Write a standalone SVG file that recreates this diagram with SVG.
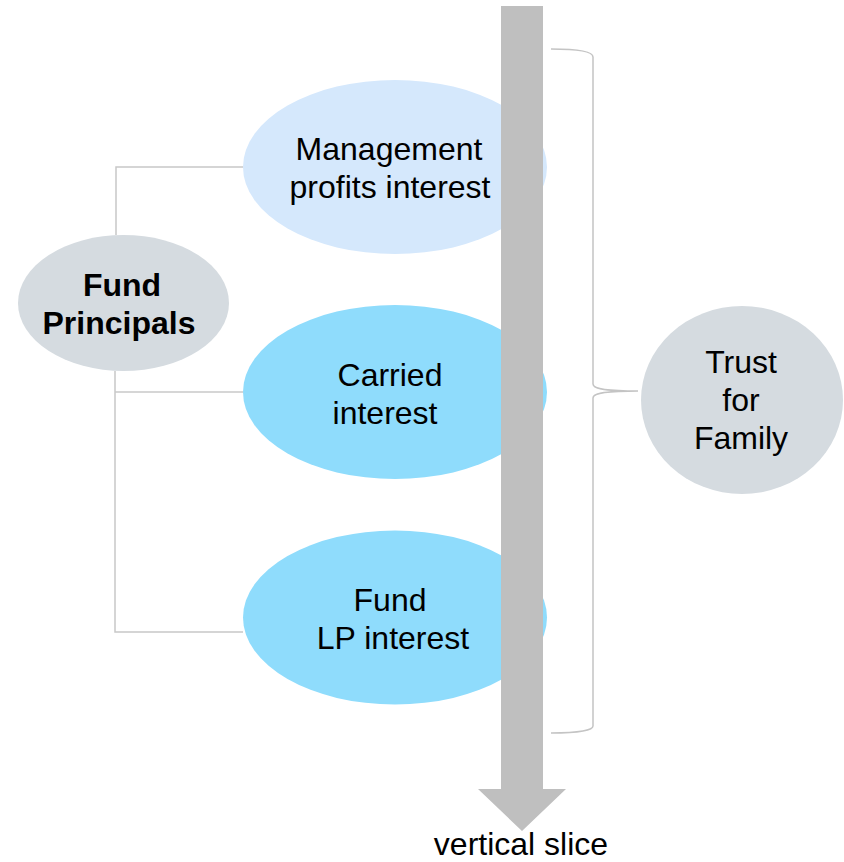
<svg xmlns="http://www.w3.org/2000/svg" width="844" height="862" viewBox="0 0 844 862">
  <style>
    .lbl { font-family: "Liberation Sans", Arial, sans-serif; font-size: 32px; fill: #000; text-anchor: middle; }
    .bold { font-weight: bold; }
    .link { fill: none; stroke: #c8c8c8; stroke-width: 1.5; }
    .brace { fill: none; stroke: #c4c4c4; stroke-width: 1.5; }
    .pale { fill: #d5e8fc; }
    .sky { fill: #8fdcfc; }
    .grey { fill: #d5dbe0; }
  </style>
  <rect width="844" height="862" fill="#ffffff"/>

  <!-- connectors from the principals to each interest -->
  <g id="connectors">
    <path class="link" d="M116,235 L116,167 L243,167"/>
    <path class="link" d="M115,371 L115,632 L243,632"/>
    <path class="link" d="M115,392 L243,392"/>
  </g>

  <g id="node-principals">
    <ellipse class="grey" cx="123.5" cy="303" rx="105.5" ry="68"/>
    <text class="lbl bold" x="122" y="296">Fund</text>
    <text class="lbl bold" x="119" y="334">Principals</text>
  </g>

  <g id="node-management">
    <ellipse class="pale" cx="395" cy="167" rx="152" ry="87"/>
    <text class="lbl" x="389" y="160">Management</text>
    <text class="lbl" x="390" y="198">profits interest</text>
  </g>

  <g id="node-carried">
    <ellipse class="sky" cx="395" cy="392" rx="152" ry="87"/>
    <text class="lbl" x="390" y="386">Carried</text>
    <text class="lbl" x="385" y="424">interest</text>
  </g>

  <g id="node-lp">
    <ellipse class="sky" cx="395" cy="617.5" rx="152" ry="87"/>
    <text class="lbl" x="390" y="611">Fund</text>
    <text class="lbl" x="393" y="649">LP interest</text>
  </g>

  <!-- downward arrow marking the slice -->
  <g id="slice-arrow">
    <polygon fill="#bfbfbf" points="501,6 543,6 543,789 566,789 522,831 478,789 501,789"/>
    <text class="lbl" x="521" y="855">vertical slice</text>
  </g>

  <!-- brace grouping the three interests -->
  <g id="brace">
    <path class="brace" d="M551,49 C580,49 593,52 593,57 L593,384 C593,388 600,391 638,391 C600,391 593,394 593,398 L593,726 C593,730 580,733 551,733"/>
  </g>

  <g id="node-trust">
    <ellipse class="grey" cx="742" cy="400" rx="101" ry="94"/>
    <text class="lbl" x="741" y="373">Trust</text>
    <text class="lbl" x="741" y="411">for</text>
    <text class="lbl" x="741" y="449">Family</text>
  </g>
</svg>
